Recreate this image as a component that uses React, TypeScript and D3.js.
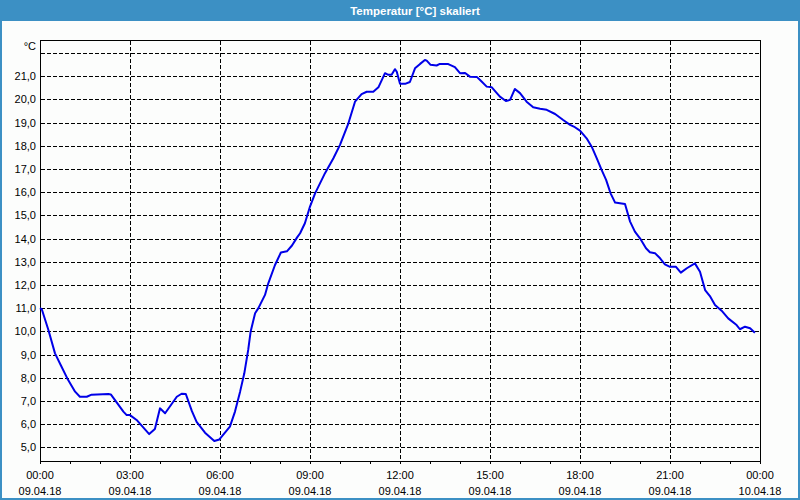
import * as d3 from 'd3';
import { useEffect, useRef } from 'react';

// Measured samples: hour of day (09.04.18) and temperature in °C
const hours = [
  0, 0.06, 0.28, 0.5, 0.69, 0.91, 1.17, 1.33, 1.56, 1.72, 2.28, 2.36, 2.78, 2.89, 3.0, 3.22,
  3.64, 3.83, 4.0, 4.17, 4.56, 4.72, 4.86, 5.06, 5.22, 5.5, 5.81, 5.98, 6.33, 6.5, 6.67, 6.81,
  6.94, 7.02, 7.17, 7.28, 7.5, 7.61, 7.83, 8.03, 8.23, 8.4, 8.57, 8.67, 8.83, 9.0, 9.17, 9.5,
  9.78, 10.0, 10.28, 10.5, 10.72, 10.89, 11.11, 11.28, 11.5, 11.61, 11.72, 11.83, 11.89, 12.0,
  12.17, 12.33, 12.5, 12.67, 12.83, 12.89, 13.02, 13.22, 13.33, 13.61, 13.83, 14.0, 14.17,
  14.33, 14.56, 14.72, 14.89, 15.06, 15.33, 15.53, 15.67, 15.83, 16.0, 16.22, 16.44, 16.67,
  16.89, 17.17, 17.44, 17.67, 17.83, 18.0, 18.22, 18.39, 18.56, 18.72, 18.87, 19.02, 19.17,
  19.33, 19.5, 19.67, 19.83, 20.0, 20.2, 20.33, 20.5, 20.67, 20.83, 21.0, 21.2, 21.36, 21.56,
  21.83, 22.0, 22.17, 22.33, 22.5, 22.72, 22.94, 23.22, 23.33, 23.5, 23.67, 23.83,
];
const temps = [
  11.0, 10.95, 10.06, 9.05, 8.55, 7.97, 7.4, 7.18, 7.18, 7.27, 7.3, 7.28, 6.54, 6.39, 6.39, 6.18,
  5.57, 5.79, 6.68, 6.47, 7.18, 7.31, 7.3, 6.57, 6.1, 5.63, 5.27, 5.34, 5.89, 6.54, 7.4, 8.19,
  9.2, 9.98, 10.78, 11.0, 11.57, 12.07, 12.85, 13.4, 13.45, 13.7, 14.05, 14.23, 14.66, 15.38,
  15.95, 16.82, 17.46, 18.04, 18.97, 19.9, 20.23, 20.33, 20.33, 20.52, 21.13, 21.06, 21.06,
  21.3, 21.2, 20.67, 20.67, 20.75, 21.34, 21.53, 21.7, 21.67, 21.49, 21.46, 21.53, 21.52,
  21.39, 21.13, 21.14, 20.98, 20.97, 20.77, 20.55, 20.52, 20.12, 19.93, 19.98, 20.45, 20.27,
  19.9, 19.66, 19.6, 19.55, 19.37, 19.11, 18.9, 18.8, 18.65, 18.32, 17.96, 17.46, 16.96, 16.53,
  15.95, 15.55, 15.52, 15.49, 14.73, 14.3, 14.01, 13.58, 13.41, 13.37, 13.15, 12.89, 12.78,
  12.78, 12.53, 12.72, 12.93, 12.57, 11.78, 11.52, 11.14, 10.89, 10.56, 10.27, 10.09, 10.2,
  10.13, 9.94,
];

// Axis labels
const tickHours = [0, 3, 6, 9, 12, 15, 18, 21, 24];
const timeLabels = ['00:00', '03:00', '06:00', '09:00', '12:00', '15:00', '18:00', '21:00', '00:00'];
const dateLabels = ['09.04.18', '09.04.18', '09.04.18', '09.04.18', '09.04.18', '09.04.18', '09.04.18', '09.04.18', '10.04.18'];
const gridTemps = d3.range(5, 23); // 5..22
const labelTemps = d3.range(5, 22); // 5..21

const TempChart = () => {
  const ref = useRef<SVGSVGElement>(null);

  useEffect(() => {
    const svg = d3.select(ref.current);
    svg.selectAll('*').remove();

    const width = 800, height = 500;
    const left = 40, right = 760, top = 40, bottom = 461;
    const blue = '#3c90c4';
    const font = '"Liberation Sans", Arial, sans-serif';

    // background + window frame
    svg.append('rect').attr('width', width).attr('height', height).attr('fill', '#fcfdfc');
    svg.append('rect').attr('width', width).attr('height', 21).attr('fill', blue);
    svg.append('rect')
      .attr('x', 1).attr('y', 1).attr('width', width - 2).attr('height', height - 2)
      .attr('fill', 'none').attr('stroke', blue).attr('stroke-width', 2);

    svg.append('text')
      .attr('x', 415).attr('y', 14.5)
      .attr('text-anchor', 'middle')
      .style('font-family', font).style('font-size', '11.5px').style('font-weight', 'bold')
      .attr('fill', '#ffffff')
      .text('Temperatur [°C] skaliert');

    const x = d3.scaleLinear().domain([0, 24]).range([left, right]);
    const y = d3.scaleLinear().domain([4.41, 22.56]).range([bottom, top]);

    const grid = svg.append('g')
      .attr('stroke', '#000').attr('stroke-width', 1)
      .attr('stroke-dasharray', '4,2').attr('shape-rendering', 'crispEdges');

    // horizontal dashed grid
    grid.selectAll('line.h')
      .data(gridTemps)
      .enter()
      .append('line')
      .attr('x1', left + 1).attr('x2', right - 1)
      .attr('y1', d => Math.round(y(d)) + 0.5)
      .attr('y2', d => Math.round(y(d)) + 0.5);

    // vertical dashed grid
    grid.selectAll('line.v')
      .data(tickHours.slice(1, -1))
      .enter()
      .append('line')
      .attr('x1', d => Math.round(x(d)) + 0.5)
      .attr('x2', d => Math.round(x(d)) + 0.5)
      .attr('y1', top + 1).attr('y2', bottom);

    // hourly minor ticks under the axis
    svg.append('g')
      .attr('stroke', '#000').attr('shape-rendering', 'crispEdges')
      .selectAll('line')
      .data(d3.range(0, 25))
      .enter()
      .append('line')
      .attr('x1', d => Math.round(x(d)) + 0.5)
      .attr('x2', d => Math.round(x(d)) + 0.5)
      .attr('y1', bottom).attr('y2', bottom + 3);

    // plot frame
    svg.append('rect')
      .attr('x', left + 0.5).attr('y', top + 0.5)
      .attr('width', right - left).attr('height', bottom - top)
      .attr('fill', 'none').attr('stroke', '#000').attr('shape-rendering', 'crispEdges');

    // y labels
    svg.append('g')
      .style('font-family', font).style('font-size', '11px')
      .selectAll('text')
      .data(labelTemps)
      .enter()
      .append('text')
      .attr('x', 36)
      .attr('y', d => y(d) + 4)
      .attr('text-anchor', 'end')
      .attr('fill', '#000')
      .text(d => d3.format('.1f')(d).replace('.', ','));

    svg.append('text')
      .attr('x', 36).attr('y', 50)
      .attr('text-anchor', 'end')
      .style('font-family', font).style('font-size', '11px')
      .attr('fill', '#000')
      .text('°C');

    // x labels (time + date)
    const xl = svg.append('g')
      .style('font-family', font).style('font-size', '11px')
      .attr('text-anchor', 'middle').attr('fill', '#000');
    xl.selectAll('text.t')
      .data(tickHours)
      .enter()
      .append('text')
      .attr('x', d => x(d))
      .attr('y', 479)
      .text((_, i) => timeLabels[i]);
    xl.selectAll('text.d')
      .data(tickHours)
      .enter()
      .append('text')
      .attr('x', d => x(d))
      .attr('y', 495)
      .text((_, i) => dateLabels[i]);

    // temperature curve
    const line = d3.line<number>()
      .x((_, i) => x(hours[i]))
      .y(d => y(d));

    svg.append('path')
      .datum(temps)
      .attr('d', line)
      .attr('fill', 'none')
      .attr('stroke', '#0000e8')
      .attr('stroke-width', 2)
      .attr('stroke-linejoin', 'round');
  }, []);

  return (
    <svg
      ref={ref}
      width={800}
      height={500}
      style={{ position: 'fixed', left: 0, top: 0, display: 'block' }}
    ></svg>
  );
};

export default function App() {
  return <TempChart />;
}
